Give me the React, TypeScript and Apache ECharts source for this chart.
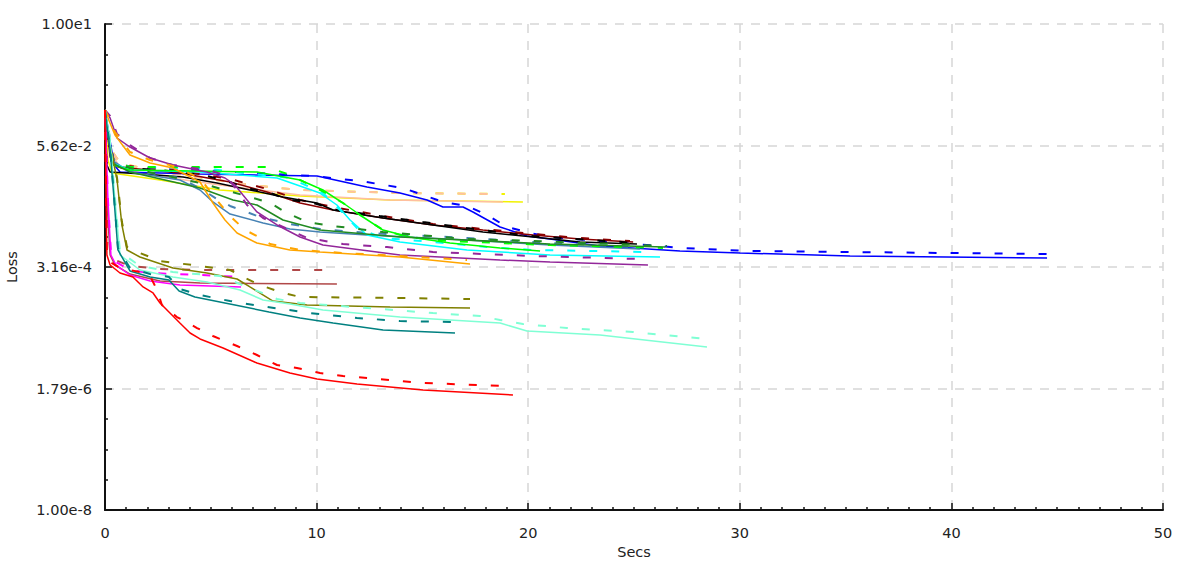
import React, { useEffect, useRef } from "react";
import * as echarts from "echarts";

// y values are log10(loss); x values are seconds
type Pt = [number, number];

const yTickLabels = ["1.00e-8", "1.79e-6", "3.16e-4", "5.62e-2", "1.00e1"];
const yMinLog = -8;
const yMaxLog = 1;
const yStepLog = 2.25;
const xMax = 50;

const blueSolid: Pt[] = [[0,-0.593],[0.43,-1.611],[0.71,-1.741],[4.49,-1.778],[10.02,-1.815],[12.38,-2.019],[13.94,-2.13],[15.22,-2.259],[15.97,-2.389],[16.92,-2.389],[17.39,-2.481],[18.67,-2.759],[19.94,-2.926],[21.03,-2.981],[23.39,-3.111],[27.17,-3.204],[30.01,-3.241],[35.21,-3.296],[44.52,-3.333]];
const blueDashed: Pt[] = [[0,-0.593],[0.43,-1.574],[0.95,-1.667],[4.49,-1.704],[9.83,-1.815],[12.05,-1.907],[14.08,-2.037],[15.97,-2.296],[17.11,-2.37],[18.05,-2.537],[19.0,-2.759],[20.09,-2.87],[21.03,-2.944],[27.32,-3.148],[30.48,-3.204],[44.52,-3.259]];

const peachSolid: Pt[] = [[0,-0.593],[0.24,-1.333],[0.71,-1.667],[2.13,-1.796],[5.43,-1.981],[9.22,-2.167],[13.47,-2.259],[18.81,-2.296]];
const peachDashed: Pt[] = [[0,-0.593],[0.24,-1.296],[0.71,-1.574],[2.13,-1.704],[6.85,-1.981],[9.22,-2.074],[13.94,-2.13],[18.43,-2.148]];

const yellowSolid: Pt[] = [[0,-0.593],[0.14,-1.519],[0.33,-1.759],[2.6,-1.889],[5.43,-2.074],[9.22,-2.185],[13.47,-2.259],[19.75,-2.296]];
const yellowDashed: Pt[] = [[0,-0.593],[0.24,-1.296],[0.71,-1.574],[2.13,-1.704],[6.85,-1.981],[9.22,-2.074],[13.94,-2.13],[18.9,-2.148]];

const blackSolid: Pt[] = [[0,-0.63],[0.09,-1.611],[0.24,-1.741],[1.8,-1.778],[3.69,-1.833],[5.29,-1.944],[6.85,-2.074],[8.41,-2.204],[10.02,-2.315],[10.78,-2.444],[13.14,-2.593],[15.5,-2.722],[17.86,-2.852],[20.23,-2.944],[22.45,-3.037],[25.14,-3.074]];
const blackDashed: Pt[] = [[0,-0.63],[0.09,-1.574],[0.33,-1.648],[2.6,-1.704],[4.63,-1.796],[5.58,-1.889],[6.71,-2.037],[7.8,-2.13],[8.74,-2.259],[9.83,-2.315],[10.96,-2.444],[12.99,-2.556],[15.03,-2.667],[17.11,-2.778],[20.09,-2.926],[25.14,-3.056]];

const maroonSolid: Pt[] = [[0,-0.593],[0.24,-1.463],[0.61,-1.648],[3.54,-1.759],[5.91,-1.926],[7.66,-2.111],[9.22,-2.315],[10.78,-2.444],[13.14,-2.593],[15.5,-2.722],[17.86,-2.815],[20.23,-2.907],[22.45,-2.981],[24.96,-3.037]];
const maroonDashed: Pt[] = [[0,-0.593],[0.24,-1.426],[0.61,-1.611],[3.54,-1.722],[5.91,-1.87],[7.66,-2.056],[9.22,-2.259],[10.78,-2.389],[13.14,-2.556],[15.5,-2.704],[17.86,-2.796],[20.23,-2.889],[22.45,-2.963],[24.81,-3.019]];

const limeSolid: Pt[] = [[0,-0.593],[0.38,-1.611],[1.18,-1.704],[7.18,-1.741],[9.22,-1.889],[10.3,-2.074],[11.25,-2.315],[12.19,-2.574],[13.14,-2.815],[14.41,-2.944],[16.3,-3.056],[18.67,-3.148],[20.56,-3.204]];
const limeDashed: Pt[] = [[0,-0.593],[0.38,-1.556],[1.18,-1.648],[7.66,-1.648],[8.74,-1.796],[9.69,-1.981],[10.63,-2.167],[11.25,-2.315],[12.05,-2.537],[13.14,-2.815],[14.27,-2.944],[16.3,-3.019],[21.03,-3.093],[26.37,-3.148]];

const cyanSolid: Pt[] = [[0,-0.593],[0.33,-1.574],[1.18,-1.704],[4.49,-1.741],[8.13,-1.852],[10.16,-2.13],[10.96,-2.352],[11.58,-2.63],[12.38,-2.907],[13.94,-3.037],[17.11,-3.185],[21.03,-3.278],[26.23,-3.315]];
const cyanDashed: Pt[] = [[0,-0.593],[0.33,-1.519],[1.18,-1.648],[4.49,-1.667],[8.74,-1.852],[10.3,-2.13],[11.11,-2.444],[11.91,-2.778],[13.14,-2.963],[15.5,-3.037],[18.05,-3.13],[20.23,-3.185],[25.61,-3.222]];

const greenSolid: Pt[] = [[0,-0.593],[0.33,-1.574],[1.18,-1.741],[4.49,-2.037],[6.05,-2.259],[7.18,-2.352],[8.41,-2.63],[10.16,-2.815],[13.94,-2.944],[21.03,-3.074],[26.47,-3.13]];
const greenDashed: Pt[] = [[0,-0.593],[0.33,-1.519],[1.18,-1.667],[4.49,-1.944],[6.85,-2.204],[7.8,-2.315],[8.6,-2.5],[9.55,-2.667],[10.78,-2.741],[13.14,-2.852],[17.11,-2.981],[20.23,-3.019],[26.56,-3.111]];

const steelSolid: Pt[] = [[0,-0.593],[0.33,-1.519],[1.18,-1.741],[3.54,-1.889],[4.49,-2.074],[5.1,-2.296],[5.91,-2.519],[7.47,-2.685],[8.74,-2.796],[10.16,-2.852],[12.38,-2.907],[17.11,-3.0],[21.03,-3.093],[25.28,-3.167]];
const steelDashed: Pt[] = [[0,-0.593],[0.33,-1.481],[1.18,-1.704],[3.54,-1.852],[4.63,-2.074],[5.29,-2.241],[5.91,-2.37],[7.33,-2.574],[8.74,-2.704],[10.16,-2.796],[12.38,-2.87],[17.11,-2.963],[21.03,-3.056],[25.09,-3.13]];

const purpleSolid: Pt[] = [[0,-0.593],[0.24,-0.741],[0.57,-1.111],[1.18,-1.278],[2.13,-1.481],[3.21,-1.611],[4.82,-1.741],[5.67,-1.852],[6.14,-1.981],[6.52,-2.167],[7.18,-2.481],[8.13,-2.722],[9.22,-2.944],[10.3,-3.093],[13.94,-3.278],[18.67,-3.37],[21.03,-3.407],[25.66,-3.463]];
const purpleDashed: Pt[] = [[0,-0.593],[0.24,-0.704],[0.57,-1.037],[1.18,-1.241],[2.13,-1.481],[3.21,-1.611],[4.82,-1.704],[5.67,-1.796],[6.24,-2.074],[6.71,-2.352],[7.47,-2.593],[8.74,-2.815],[9.55,-2.963],[11.25,-3.074],[13.33,-3.13],[15.5,-3.222],[20.23,-3.296],[25.28,-3.352]];

const orangeSolid: Pt[] = [[0,-0.593],[0.14,-0.741],[0.47,-1.056],[1.18,-1.426],[2.13,-1.574],[3.21,-1.667],[4.49,-1.926],[5.1,-2.315],[5.67,-2.63],[6.24,-2.87],[7.18,-3.056],[8.74,-3.185],[10.16,-3.222],[13.94,-3.315],[17.25,-3.444]];
const orangeDashed: Pt[] = [[0,-0.593],[0.14,-0.704],[0.47,-1.0],[1.18,-1.37],[2.13,-1.519],[3.21,-1.63],[4.49,-1.852],[5.2,-2.222],[5.91,-2.556],[6.62,-2.815],[7.18,-2.926],[7.8,-3.074],[9.22,-3.185],[11.25,-3.241],[13.94,-3.296],[17.11,-3.37]];

const brownSolid: Pt[] = [[0,-0.593],[0.09,-2.259],[0.24,-3.278],[0.47,-3.463],[1.18,-3.63],[2.6,-3.759],[4.49,-3.796],[10.96,-3.815]];
const brownDashed: Pt[] = [[0,-0.593],[0.09,-2.259],[0.24,-3.222],[0.47,-3.37],[1.18,-3.481],[2.6,-3.537],[4.49,-3.556],[10.63,-3.556]];

const magentaSolid: Pt[] = [[0,-0.593],[0.14,-2.259],[0.28,-3.278],[0.52,-3.463],[1.18,-3.648],[2.13,-3.759],[3.54,-3.833],[6.43,-3.87]];
const magentaDashed: Pt[] = [[0,-0.593],[0.14,-2.259],[0.28,-3.222],[0.52,-3.407],[1.18,-3.556],[2.13,-3.611],[4.49,-3.648],[6.47,-3.685]];

const oliveSolid: Pt[] = [[0,-0.593],[0.19,-1.148],[0.38,-1.519],[0.57,-1.889],[0.8,-2.722],[1.04,-3.185],[1.65,-3.315],[3.21,-3.519],[4.82,-3.611],[6.24,-3.722],[6.85,-3.87],[7.94,-4.13],[9.55,-4.204],[13.47,-4.241],[17.25,-4.259]];
const oliveDashed: Pt[] = [[0,-0.593],[0.19,-1.111],[0.38,-1.481],[0.57,-1.852],[0.8,-2.667],[1.04,-3.13],[1.65,-3.241],[2.6,-3.389],[4.49,-3.481],[5.91,-3.556],[6.62,-3.704],[7.33,-3.833],[8.27,-3.963],[9.22,-4.056],[13.94,-4.074],[17.25,-4.093]];

const aquaSolid: Pt[] = [[0,-0.593],[0.24,-1.148],[0.47,-2.259],[0.71,-3.278],[1.65,-3.556],[3.21,-3.685],[4.82,-3.778],[6.38,-3.926],[7.47,-4.111],[8.74,-4.185],[10.3,-4.296],[13.94,-4.426],[18.67,-4.537],[19.94,-4.685],[23.39,-4.759],[28.45,-4.981]];
const aquaDashed: Pt[] = [[0,-0.593],[0.24,-1.111],[0.47,-2.222],[0.71,-3.222],[1.65,-3.481],[3.21,-3.593],[5.43,-3.667],[6.85,-3.889],[8.13,-4.093],[9.22,-4.167],[12.38,-4.259],[15.5,-4.352],[17.72,-4.407],[18.67,-4.481],[19.75,-4.556],[21.83,-4.63],[24.95,-4.704],[28.45,-4.833]];

const tealSolid: Pt[] = [[0,-0.593],[0.24,-1.333],[0.43,-2.259],[0.61,-3.185],[1.18,-3.574],[2.13,-3.685],[3.02,-3.741],[3.5,-3.944],[4.25,-4.056],[6.14,-4.204],[7.75,-4.333],[9.22,-4.444],[10.78,-4.537],[13.14,-4.667],[16.54,-4.722]];
const tealDashed: Pt[] = [[0,-0.593],[0.24,-1.296],[0.43,-2.222],[0.61,-3.148],[1.18,-3.519],[2.13,-3.63],[3.02,-3.685],[3.54,-3.907],[4.49,-4.019],[5.91,-4.13],[7.33,-4.222],[9.69,-4.352],[11.91,-4.444],[13.94,-4.5],[16.4,-4.519]];

const redSolid: Pt[] = [[0,-0.593],[0.05,-2.259],[0.09,-3.278],[0.24,-3.463],[0.71,-3.611],[1.32,-3.685],[1.8,-3.87],[2.27,-3.981],[2.6,-4.167],[3.07,-4.352],[3.54,-4.537],[4.02,-4.722],[4.49,-4.833],[5.58,-5.0],[7.18,-5.278],[8.74,-5.463],[10.02,-5.574],[11.91,-5.667],[15.03,-5.778],[19.28,-5.87]];
const redDashed: Pt[] = [[0,-0.593],[0.05,-2.167],[0.09,-3.185],[0.24,-3.407],[0.71,-3.519],[1.65,-3.593],[2.13,-3.667],[2.46,-3.926],[2.69,-4.204],[3.4,-4.426],[4.35,-4.63],[5.1,-4.778],[6.24,-4.963],[7.18,-5.13],[8.13,-5.315],[9.07,-5.37],[10.16,-5.463],[11.25,-5.519],[12.38,-5.556],[15.03,-5.648],[18.95,-5.704]];

const runs: { name: string; color: string; solid: Pt[]; dashed: Pt[] }[] = [
  { name: "yellow", color: "#f2f200", solid: yellowSolid, dashed: yellowDashed },
  { name: "peach", color: "#ffbf9f", solid: peachSolid, dashed: peachDashed },
  { name: "blue", color: "#0000ff", solid: blueSolid, dashed: blueDashed },
  { name: "maroon", color: "#8b0000", solid: maroonSolid, dashed: maroonDashed },
  { name: "black", color: "#000000", solid: blackSolid, dashed: blackDashed },
  { name: "steelblue", color: "#4682b4", solid: steelSolid, dashed: steelDashed },
  { name: "cyan", color: "#00ffff", solid: cyanSolid, dashed: cyanDashed },
  { name: "lime", color: "#00ff00", solid: limeSolid, dashed: limeDashed },
  { name: "darkgreen", color: "#228b22", solid: greenSolid, dashed: greenDashed },
  { name: "purple", color: "#93279a", solid: purpleSolid, dashed: purpleDashed },
  { name: "orange", color: "#ffa500", solid: orangeSolid, dashed: orangeDashed },
  { name: "brown", color: "#b04848", solid: brownSolid, dashed: brownDashed },
  { name: "magenta", color: "#ff00ff", solid: magentaSolid, dashed: magentaDashed },
  { name: "olive", color: "#808000", solid: oliveSolid, dashed: oliveDashed },
  { name: "aquamarine", color: "#7fffd4", solid: aquaSolid, dashed: aquaDashed },
  { name: "teal", color: "#008080", solid: tealSolid, dashed: tealDashed },
  { name: "red", color: "#ff0000", solid: redSolid, dashed: redDashed },
];

const FONT = "DejaVu Sans";
const FS = 14.5;

export default function App() {
  const ref = useRef<HTMLDivElement>(null);
  useEffect(() => {
    if (!ref.current) return;
    const chart = echarts.init(ref.current, undefined, { renderer: "svg" });
    const series: any[] = [];
    runs.forEach((r) => {
      series.push({
        name: r.name + " (train)",
        type: "line",
        data: r.solid,
        showSymbol: false,
        symbol: "none",
        lineStyle: { color: r.color, width: 1.5 },
        itemStyle: { color: r.color },
      });
      series.push({
        name: r.name + " (test)",
        type: "line",
        data: r.dashed,
        showSymbol: false,
        symbol: "none",
        lineStyle: { color: r.color, width: 2, type: [8, 14] },
        itemStyle: { color: r.color },
      });
    });
    chart.setOption({
      animation: false,
      backgroundColor: "#ffffff",
      textStyle: { fontFamily: FONT },
      grid: { left: 105, right: 22, top: 24, bottom: 62, containLabel: false, outerBoundsMode: "none" },
      xAxis: {
        type: "value",
        min: 0,
        max: xMax,
        interval: 10,
        name: "Secs",
        nameLocation: "middle",
        nameGap: 34,
        nameTextStyle: { fontFamily: FONT, fontSize: FS, color: "#222" },
        axisLine: { show: true, onZero: false, lineStyle: { color: "#111", width: 2 } },
        axisTick: { show: true, inside: true, length: 7, lineStyle: { color: "#111", width: 1.5 } },
        minorTick: { show: true, splitNumber: 10, length: 3, lineStyle: { color: "#111", width: 1.5 } },
        axisLabel: { fontFamily: FONT, fontSize: FS, color: "#222", margin: 15 },
        splitLine: { show: true, lineStyle: { color: "#d6d6d6", width: 1.5, type: [9, 8] } },
      },
      yAxis: {
        type: "value",
        min: yMinLog,
        max: yMaxLog,
        interval: yStepLog,
        name: "Loss",
        nameLocation: "middle",
        nameGap: 86,
        nameTextStyle: { fontFamily: FONT, fontSize: FS, color: "#222" },
        axisLine: { show: true, onZero: false, lineStyle: { color: "#111", width: 2 } },
        axisTick: { show: true, inside: true, length: 7, lineStyle: { color: "#111", width: 1.5 } },
        minorTick: { show: true, splitNumber: 4, length: 3, lineStyle: { color: "#111", width: 1.5 } },
        axisLabel: {
          fontFamily: FONT,
          fontSize: FS,
          color: "#222",
          margin: 13,
          formatter: (v: number) => {
            const i = Math.round((v - yMinLog) / yStepLog);
            return yTickLabels[i] ?? "";
          },
        },
        splitLine: { show: true, lineStyle: { color: "#d6d6d6", width: 1.5, type: [9, 8] } },
      },
      series,
    });
    return () => chart.dispose();
  }, []);
  return (
    <div
      ref={ref}
      style={{ position: "fixed", left: 0, top: 0, width: 1185, height: 572, background: "#fff" }}
    />
  );
}
